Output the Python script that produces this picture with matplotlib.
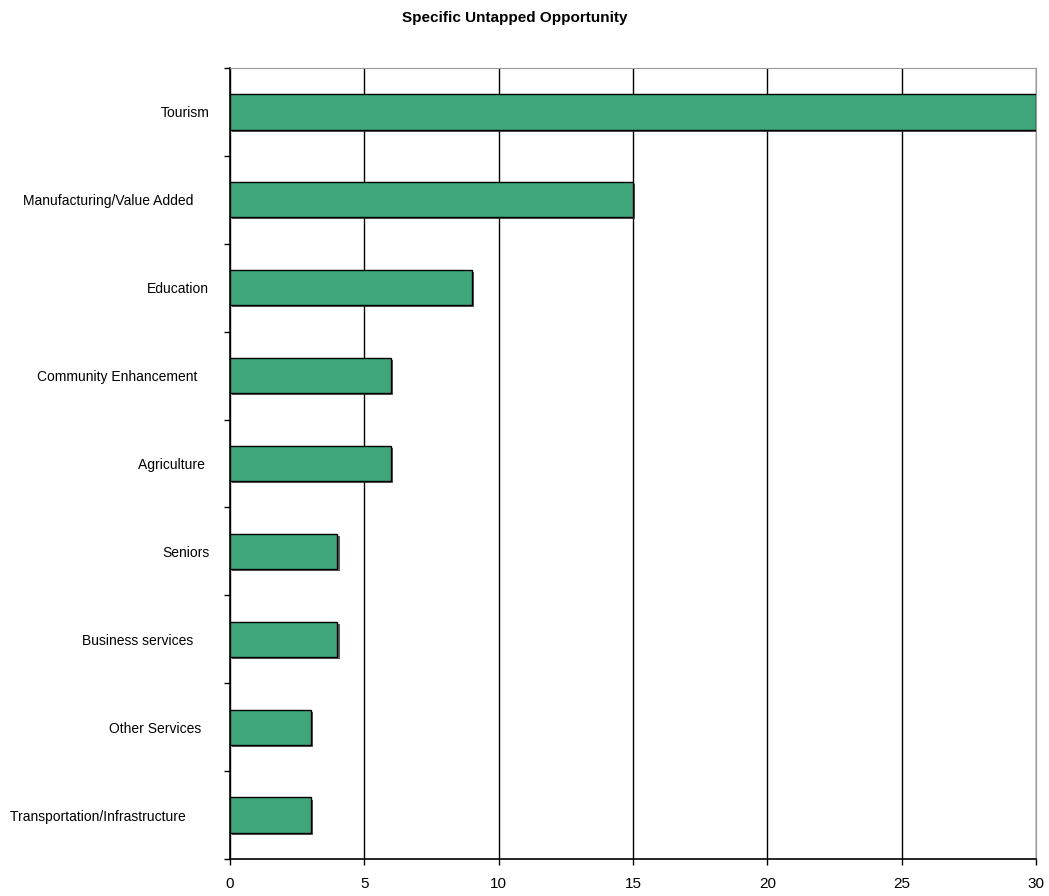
import matplotlib
matplotlib.use('Agg')
import matplotlib.pyplot as plt
import matplotlib.patheffects as pe

# chart data, top to bottom
categories = ['Tourism', 'Manufacturing/Value Added    ', 'Education', 'Community Enhancement   ',
              'Agriculture ', 'Seniors', 'Business services    ', 'Other Services  ',
              'Transportation/Infrastructure      ']
values = [30, 15, 9, 6, 6, 4, 4, 3, 3]
x_ticks = [0, 5, 10, 15, 20, 25, 30]

plt.rcParams['font.family'] = ['Liberation Sans', 'DejaVu Sans']

fig = plt.figure(figsize=(10.49, 8.96), dpi=100)
ax = fig.add_axes([230 / 1049, 1 - 859 / 896, 806 / 1049, 791 / 896])

pos = list(range(len(categories)))
bars = ax.barh(pos, values, height=0.4, color='#3FA77B', edgecolor='black', linewidth=1, zorder=3)
for b in bars:
    b.set_path_effects([pe.SimplePatchShadow(offset=(1.5, -1.5), shadow_rgbFace='#333333', alpha=0.8), pe.Normal()])

ax.set_ylim(len(categories) - 0.5, -0.5)
ax.set_xlim(0, 30)
ax.set_xticks(x_ticks)
ax.set_xticklabels([str(t) for t in x_ticks], fontsize=11)

# ticks between categories on the y axis, labels centred on bars
ax.set_yticks([p - 0.5 for p in pos] + [len(categories) - 0.5])
ax.set_yticklabels([])
ax.set_yticks(pos, minor=True)
ax.set_yticklabels(categories, minor=True, fontsize=10)
ax.tick_params(axis='y', which='minor', length=0, pad=15)
ax.tick_params(axis='y', which='major', length=4, width=1, direction='out')
ax.tick_params(axis='x', length=4, width=1, direction='out', pad=9)

ax.grid(axis='x', color='black', linewidth=1, zorder=1)
ax.spines['top'].set_color('#999999')
ax.spines['right'].set_color('#999999')
ax.spines['left'].set_linewidth(1.2)
ax.spines['bottom'].set_linewidth(1.2)

fig.text(515 / 1049, 1 - 18 / 896, 'Specific Untapped Opportunity', ha='center', va='center',
         fontsize=11, fontweight='bold')

fig.savefig('out.png', dpi=100)
